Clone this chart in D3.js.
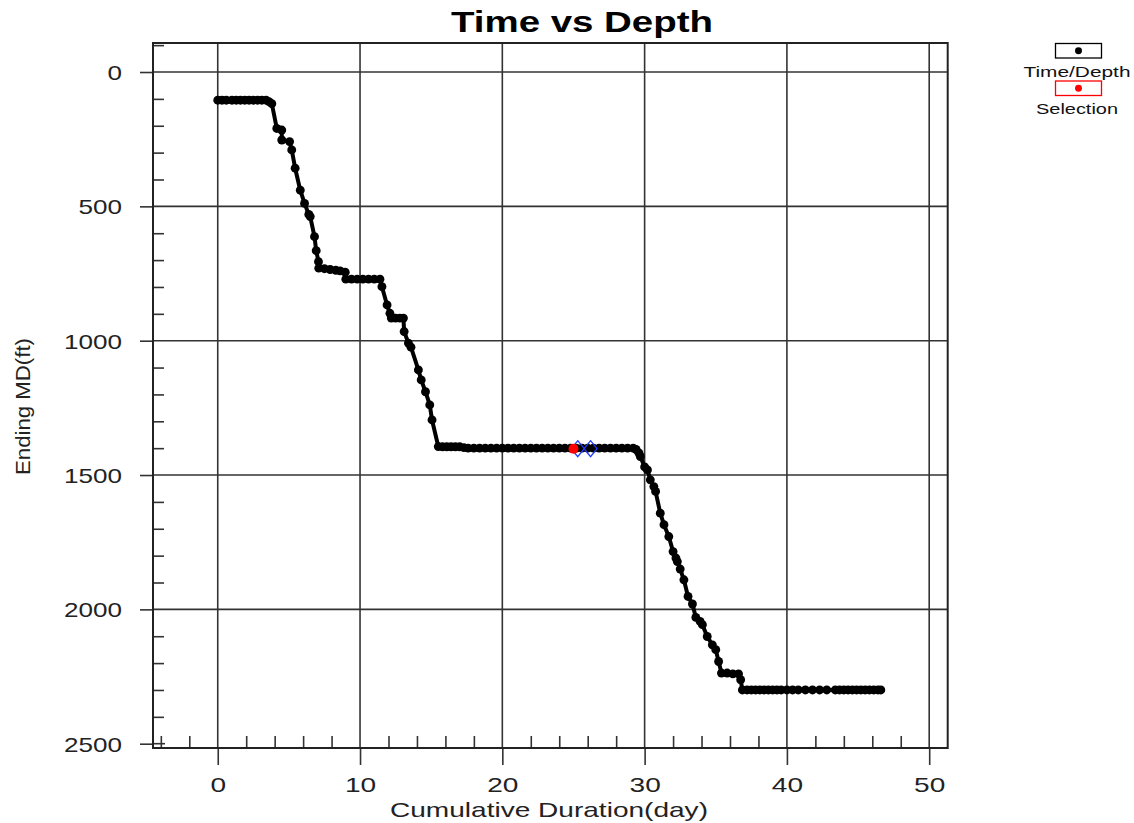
<!DOCTYPE html>
<html>
<head>
<meta charset="utf-8">
<script src="https://cdn.jsdelivr.net/npm/d3@7"></script>
<style>
  body { margin: 0; background: #fff; }
  svg { display: block; font-family: "Liberation Sans", Arial, sans-serif; }
</style>
</head>
<body>
<div id="chart"></div>
<script>
// datos: dias acumulados y profundidad (ft)
const days = [
  0, 0.3, 0.6, 1.0, 1.3, 1.6, 1.9, 2.2, 2.5, 2.8, 3.1, 3.4, 3.6, 3.8,
  4.15, 4.5, 4.5, 5.05, 5.2, 5.44, 5.8, 6.1, 6.4, 6.5, 6.8, 6.92, 7.08,
  7.1, 7.5, 7.9, 8.3, 8.6, 8.96, 9.0, 9.4, 9.8, 10.2, 10.6, 11.0, 11.4,
  11.54, 11.9, 12.1, 12.2, 12.5, 12.8, 13.05, 13.1, 13.4, 13.58, 14.1, 14.3,
  14.6, 14.9, 15.06, 15.5,
  15.8, 16.1, 16.4, 16.7, 17.0, 17.3, 17.6, 18.0, 18.4, 18.8, 19.2, 19.6,
  20.0, 20.4, 20.8, 21.2, 21.6, 22.0, 22.4, 22.8, 23.2, 23.6, 24.0, 24.4,
  24.8, 25.2, 25.6, 26.0, 26.4, 26.8, 27.2, 27.6, 28.0, 28.4, 28.8, 29.2,
  29.4, 29.6, 29.7, 30.0, 30.2, 30.4, 30.65, 30.77, 31.1, 31.36, 31.7, 32.0,
  32.2, 32.3, 32.5, 32.76, 33.05, 33.36, 33.6, 33.9, 34.06, 34.4, 34.76,
  35.0, 35.2, 35.4, 35.8, 36.2, 36.6, 36.75, 36.87,
  37.2, 37.5, 37.8, 38.1, 38.4, 38.7, 39.0, 39.3, 39.6, 40.0, 40.4, 40.8,
  41.3, 41.8, 42.3, 42.8, 43.4, 43.7, 44.0, 44.3, 44.6, 44.9, 45.2, 45.5,
  45.8, 46.1, 46.4, 46.6
];
const depths = [
  105, 105, 105, 105, 105, 105, 105, 105, 105, 105, 105, 105, 110, 118,
  210, 216, 253, 259, 290, 358, 440, 489, 530, 538, 613, 665, 706,
  730, 732, 735, 738, 740, 745, 771, 771, 771, 771, 771, 771, 771,
  799, 867, 898, 916, 916, 916, 916, 966, 1009, 1024, 1109, 1146,
  1190, 1239, 1295, 1394,
  1395, 1395, 1395, 1395, 1395, 1398, 1400, 1400, 1400, 1400, 1400, 1400,
  1400, 1400, 1400, 1400, 1400, 1400, 1400, 1400, 1400, 1400, 1400, 1400,
  1400, 1400, 1400, 1400, 1400, 1400, 1400, 1400, 1400, 1400, 1400, 1400,
  1405, 1418, 1431, 1470, 1481, 1518, 1543, 1561, 1642, 1685, 1729, 1785,
  1809, 1822, 1850, 1890, 1952, 1980, 2030, 2045, 2057, 2101, 2132,
  2150, 2194, 2237, 2237, 2240, 2240, 2262, 2300,
  2300, 2300, 2300, 2300, 2300, 2300, 2300, 2300, 2300, 2300, 2300, 2300,
  2300, 2300, 2300, 2300, 2300, 2300, 2300, 2300, 2300, 2300, 2300, 2300,
  2300, 2300, 2300, 2300
];
// punto seleccionado y marcadores azules
const selDays = [25.0];
const selDepths = [1402];
const markDays = [25.3, 26.2];
const markDepths = [1402, 1402];

const xMajor = [0, 10, 20, 30, 40, 50];
const xMinor = [-4, -2, 2, 4, 6, 8, 12, 14, 16, 18, 22, 24, 26, 28, 32, 34, 36, 38, 42, 44, 46, 48];
const yMajor = [0, 500, 1000, 1500, 2000, 2500];
const yMinor = [-100, 100, 200, 300, 400, 600, 700, 800, 900, 1100, 1200, 1300, 1400,
  1600, 1700, 1800, 1900, 2100, 2200, 2300, 2400];

const title = "Time vs Depth";
const xTitle = "Cumulative Duration(day)";
const yTitle = "Ending MD(ft)";
const legendNames = ["Time/Depth", "Selection"];

var margin = { top: 43, right: 187, bottom: 75, left: 153 },
    width = 1134, height = 823;
var plotR = width - margin.right + 0.7, plotB = height - margin.bottom;

var x = d3.scaleLinear().domain([-4.55, 51.3]).range([margin.left, plotR]);
var y = d3.scaleLinear().domain([-108, 2516]).range([margin.top, plotB]);

var svg = d3.select("#chart").append("svg")
    .attr("width", width).attr("height", height);

// GRILLA
svg.append("g").selectAll("line").data(xMajor).enter().append("line")
    .attr("x1", d => x(d)).attr("x2", d => x(d))
    .attr("y1", margin.top).attr("y2", plotB)
    .attr("stroke", "#333").attr("stroke-width", 1.6);
svg.append("g").selectAll("line").data(yMajor.filter(d => d < 2500)).enter().append("line")
    .attr("x1", margin.left).attr("x2", plotR)
    .attr("y1", d => y(d)).attr("y2", d => y(d))
    .attr("stroke", "#333").attr("stroke-width", 1.6);

// EJES
var xAxis = svg.append("g").attr("transform", "translate(0," + plotB + ")")
    .call(d3.axisBottom(x).tickValues(xMajor).tickSize(17).tickFormat(d3.format("d")));
var xAxisMinor = svg.append("g").attr("transform", "translate(0," + plotB + ")")
    .call(d3.axisTop(x).tickValues(xMinor).tickSize(12).tickFormat(""));
var yAxis = svg.append("g").attr("transform", "translate(" + margin.left + ",0)")
    .call(d3.axisLeft(y).tickValues(yMajor).tickSize(13).tickFormat(d3.format("d")));
var yAxisMinor = svg.append("g").attr("transform", "translate(" + margin.left + ",0)")
    .call(d3.axisRight(y).tickValues(yMinor).tickSize(11).tickFormat(""));

svg.selectAll(".domain").remove();
svg.selectAll(".tick line").attr("stroke", "#333").attr("stroke-width", 1.6);

xAxis.selectAll("text")
    .attr("y", 0).attr("dy", null)
    .attr("transform", "translate(0,44)")
    .attr("fill", "#222")
    .style("font-size", "21px")
    .attr("textLength", function(d) { return String(d).length * 15.6; })
    .attr("lengthAdjust", "spacingAndGlyphs");
yAxis.selectAll("text")
    .attr("x", -31).attr("dy", "0.36em")
    .attr("fill", "#222")
    .style("font-size", "21px")
    .attr("textLength", function(d) { return String(d).length * 14.5; })
    .attr("lengthAdjust", "spacingAndGlyphs");

// tick extra de 2500 hacia dentro
svg.append("line")
    .attr("x1", margin.left).attr("x2", margin.left + 12)
    .attr("y1", y(2500)).attr("y2", y(2500))
    .attr("stroke", "#333").attr("stroke-width", 1.6);

// MARCO
svg.append("rect")
    .attr("x", margin.left).attr("y", margin.top)
    .attr("width", plotR - margin.left).attr("height", plotB - margin.top)
    .attr("fill", "none").attr("stroke", "#222").attr("stroke-width", 2);

// SERIE
var pts = days.map((d, i) => ({ d: d, md: depths[i] }));
var line = d3.line().x(p => x(p.d)).y(p => y(p.md));
svg.append("path").datum(pts)
    .attr("d", line)
    .attr("fill", "none").attr("stroke", "#000").attr("stroke-width", 4)
    .attr("stroke-linejoin", "round");
svg.append("g").selectAll("path").data(pts).enter().append("path")
    .attr("d", d3.symbol().type(d3.symbolCircle).size(62))
    .attr("transform", p => "translate(" + x(p.d) + "," + y(p.md) + ")")
    .attr("fill", "#000");

// SELECCION
svg.append("g").selectAll("path").data(markDays).enter().append("path")
    .attr("d", (d, i) => {
        var cx = x(d), cy = y(markDepths[i]);
        return "M" + cx + "," + (cy - 8) + "L" + (cx + 6.5) + "," + cy +
               "L" + cx + "," + (cy + 8) + "L" + (cx - 6.5) + "," + cy + "Z";
    })
    .attr("fill", "none").attr("stroke", "#1f3cff").attr("stroke-width", 1.3);
svg.append("g").selectAll("circle").data(selDays).enter().append("circle")
    .attr("cx", d => x(d)).attr("cy", (d, i) => y(selDepths[i]))
    .attr("r", 5).attr("fill", "#ff0000");

// TITULOS
svg.append("text")
    .attr("x", 582).attr("y", 31.5)
    .attr("text-anchor", "middle")
    .style("font-size", "30px").style("font-weight", "bold")
    .attr("textLength", 262).attr("lengthAdjust", "spacingAndGlyphs")
    .text(title);
svg.append("text")
    .attr("x", 549).attr("y", 816.5)
    .attr("text-anchor", "middle").attr("fill", "#222")
    .style("font-size", "21px")
    .attr("textLength", 318).attr("lengthAdjust", "spacingAndGlyphs")
    .text(xTitle);
svg.append("text")
    .attr("transform", "translate(30,406.5) rotate(-90)")
    .attr("text-anchor", "middle").attr("fill", "#222")
    .style("font-size", "21px")
    .attr("textLength", 137).attr("lengthAdjust", "spacingAndGlyphs")
    .text(yTitle);

// LEYENDA
var legColors = ["#000", "#ff0000"];
var leg = svg.append("g");
legendNames.forEach(function(name, i) {
    var top = 43.5 + i * 37.5;
    leg.append("rect")
        .attr("x", 1055.5).attr("y", top)
        .attr("width", 46).attr("height", 14.5)
        .attr("fill", "#fff").attr("stroke", legColors[i]).attr("stroke-width", 1.3);
    leg.append("path")
        .attr("d", d3.symbol().type(d3.symbolCircle).size(38))
        .attr("transform", "translate(1078.5," + (top + 7.2) + ")")
        .attr("fill", legColors[i]);
    leg.append("text")
        .attr("x", 1077).attr("y", top + 33)
        .attr("text-anchor", "middle").attr("fill", "#111")
        .style("font-size", "14px")
        .attr("textLength", i == 0 ? 107 : 82).attr("lengthAdjust", "spacingAndGlyphs")
        .text(name);
});
</script>
</body>
</html>
